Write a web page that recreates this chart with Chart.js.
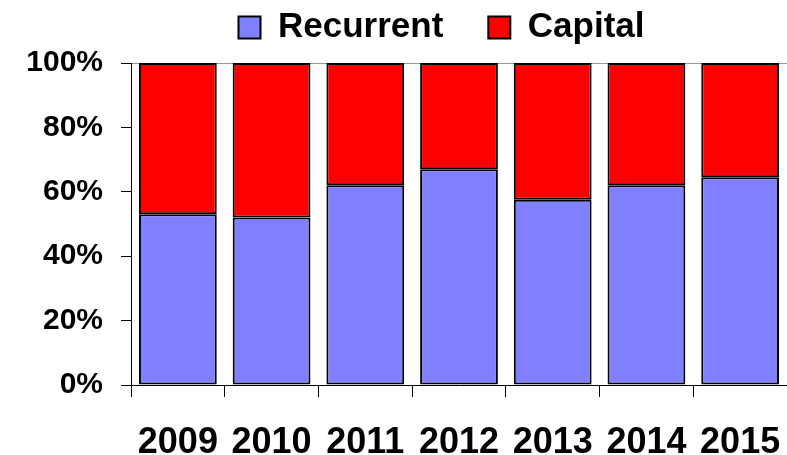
<!DOCTYPE html>
<html>
<head>
<meta charset="utf-8">
<script src="https://cdn.jsdelivr.net/npm/chart.js@4/dist/chart.umd.min.js"></script>
<style>
  body { margin: 0; background: #fff; }
</style>
</head>
<body>
<canvas id="budgetChart" width="787" height="455"></canvas>
<script>
// Share of spending per year, in percent
const years = ['2009', '2010', '2011', '2012', '2013', '2014', '2015'];
const recurrent = [53, 52, 62, 67, 57.5, 62, 64.5];
const capital = [47, 48, 38, 33, 42.5, 38, 35.5];
const yTicks = [0, 20, 40, 60, 80, 100];

const fontFamily = '"Liberation Sans", Arial, Helvetica, sans-serif';

// Top grid line only, the rest of the grid stays hidden
function gridColor(ctx) {
    return ctx.tick && ctx.tick.value === 100 ? '#999999' : 'rgba(0,0,0,0)';
}

// Legend sits high and right of centre; the wide item gap comes from labels.padding
const legendPlacement = {
    id: 'legendPlacement',
    beforeInit(chart) {
        const legend = chart.legend;
        const fit = legend.fit;
        legend.fit = function () {
            fit.call(this);
            this.height = 63;
        };
    },
    afterLayout(chart) {
        const legend = chart.legend;
        legend.top -= 35;
        legend.left += 48;
        legend.right += 48;
    }
};

new Chart(document.getElementById('budgetChart'), {
    type: 'bar',
    data: {
        labels: years,
        datasets: [{
            label: 'Recurrent',
            data: recurrent,
            backgroundColor: '#8080ff',
            borderColor: '#000000',
            borderWidth: 2,
            borderSkipped: false
        }, {
            label: 'Capital',
            data: capital,
            backgroundColor: '#ff0000',
            borderColor: '#000000',
            borderWidth: 2,
            borderSkipped: false
        }]
    },
    plugins: [legendPlacement],
    options: {
        responsive: false,
        animation: false,
        layout: { padding: 0 },
        datasets: {
            bar: { barPercentage: 0.83, categoryPercentage: 1 }
        },
        plugins: {
            tooltip: { enabled: false },
            legend: {
                display: true,
                position: 'top',
                labels: {
                    color: '#000',
                    boxWidth: 22,
                    boxHeight: 22,
                    padding: 45,
                    font: { family: fontFamily, size: 35, weight: 'bold' }
                }
            }
        },
        scales: {
            x: {
                stacked: true,
                offset: true,
                border: { color: '#000', width: 1 },
                grid: {
                    offset: true,
                    drawOnChartArea: false,
                    tickLength: 12,
                    tickColor: '#000'
                },
                ticks: {
                    color: '#000',
                    padding: 24,
                    maxRotation: 0,
                    font: { family: fontFamily, size: 36, weight: 'bold' }
                },
                afterFit: (scale) => {
                    scale.height = 70;
                    scale.paddingRight = 0;
                    scale.paddingLeft = 0;
                }
            },
            y: {
                stacked: true,
                min: 0,
                max: 100,
                border: { color: '#000', width: 1 },
                grid: {
                    color: gridColor,
                    tickColor: '#000',
                    tickLength: 10
                },
                afterBuildTicks: (scale) => {
                    scale.ticks = yTicks.map(v => ({ value: v }));
                },
                ticks: {
                    color: '#000',
                    padding: 18,
                    font: { family: fontFamily, size: 30, weight: 'bold' },
                    callback: (v) => v + '%'
                },
                afterFit: (scale) => { scale.width = 131; }
            }
        }
    }
});
</script>
</body>
</html>
